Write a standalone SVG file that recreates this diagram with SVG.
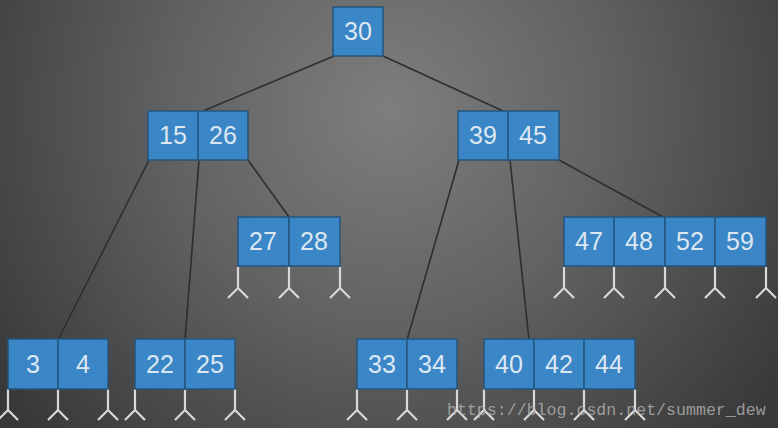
<svg xmlns="http://www.w3.org/2000/svg" width="778" height="428" viewBox="0 0 778 428">
<defs>
<radialGradient id="bg" cx="390" cy="110" r="480" gradientUnits="userSpaceOnUse">
<stop offset="0" stop-color="#7e7f7d"/>
<stop offset="0.45" stop-color="#616261"/>
<stop offset="1" stop-color="#383838"/>
</radialGradient>
<g id="fork"><path d="M0,0 V21 M-10,31 L0,21 L10,31" fill="none"/></g>
</defs>
<style>
.cell{fill:#3a86c6;stroke:#24557f;stroke-width:1.5}
.k{font-family:"Liberation Sans",Arial,sans-serif;font-size:25px;fill:#dde7f1;text-anchor:middle}
.edge{stroke:#2e2e2e;stroke-width:1.6;fill:none}
.forks use{stroke:#d8d8d8;stroke-width:2.2}
.wm{font-family:"Liberation Mono","DejaVu Sans Mono",monospace;font-size:16.6px;fill:#b4b4b4;fill-opacity:0.8}
</style>
<rect width="778" height="428" fill="url(#bg)"/>
<g id="connectors">
<line class="edge" x1="334" y1="56" x2="203" y2="111"/>
<line class="edge" x1="383" y1="56" x2="503" y2="111"/>
<line class="edge" x1="149" y1="160" x2="58" y2="340"/>
<line class="edge" x1="199" y1="160" x2="185" y2="340"/>
<line class="edge" x1="248" y1="160" x2="289" y2="217"/>
<line class="edge" x1="459" y1="160" x2="407" y2="340"/>
<line class="edge" x1="510" y1="160" x2="529" y2="340"/>
<line class="edge" x1="559" y1="160" x2="663" y2="217"/>
</g>
<g class="forks">
<use href="#fork" x="238" y="267"/><use href="#fork" x="289" y="267"/><use href="#fork" x="340" y="267"/>
<use href="#fork" x="564" y="267"/><use href="#fork" x="614" y="267"/><use href="#fork" x="665" y="267"/><use href="#fork" x="715" y="267"/><use href="#fork" x="766" y="267"/>
<use href="#fork" x="8" y="389"/><use href="#fork" x="58" y="389"/><use href="#fork" x="108" y="389"/>
<use href="#fork" x="135" y="389"/><use href="#fork" x="185" y="389"/><use href="#fork" x="235" y="389"/>
<use href="#fork" x="357" y="389"/><use href="#fork" x="407" y="389"/><use href="#fork" x="457" y="389"/>
<use href="#fork" x="484" y="389"/><use href="#fork" x="534" y="389"/><use href="#fork" x="584" y="389"/><use href="#fork" x="635" y="389"/>
</g>
<g id="n30">
<rect class="cell" x="333" y="7" width="50" height="49"/>
<text class="k" x="358" y="40">30</text>
</g>
<g id="n15_26">
<rect class="cell" x="148" y="111" width="50" height="49"/><rect class="cell" x="198" y="111" width="50" height="49"/>
<text class="k" x="173" y="144">15</text><text class="k" x="223" y="144">26</text>
</g>
<g id="n39_45">
<rect class="cell" x="458" y="111" width="50" height="49"/><rect class="cell" x="508" y="111" width="51" height="49"/>
<text class="k" x="483" y="144">39</text><text class="k" x="533" y="144">45</text>
</g>
<g id="n27_28">
<rect class="cell" x="238" y="217" width="51" height="49"/><rect class="cell" x="289" y="217" width="51" height="49"/>
<text class="k" x="263" y="250">27</text><text class="k" x="314" y="250">28</text>
</g>
<g id="n47_59">
<rect class="cell" x="564" y="217" width="50" height="49"/><rect class="cell" x="614" y="217" width="51" height="49"/><rect class="cell" x="665" y="217" width="50" height="49"/><rect class="cell" x="715" y="217" width="51" height="49"/>
<text class="k" x="589" y="250">47</text><text class="k" x="639" y="250">48</text><text class="k" x="690" y="250">52</text><text class="k" x="740" y="250">59</text>
</g>
<g id="n3_4">
<rect class="cell" x="8" y="339" width="50" height="50"/><rect class="cell" x="58" y="339" width="50" height="50"/>
<text class="k" x="33" y="373">3</text><text class="k" x="83" y="373">4</text>
</g>
<g id="n22_25">
<rect class="cell" x="135" y="339" width="50" height="50"/><rect class="cell" x="185" y="339" width="50" height="50"/>
<text class="k" x="160" y="373">22</text><text class="k" x="210" y="373">25</text>
</g>
<g id="n33_34">
<rect class="cell" x="357" y="339" width="50" height="50"/><rect class="cell" x="407" y="339" width="50" height="50"/>
<text class="k" x="382" y="373">33</text><text class="k" x="432" y="373">34</text>
</g>
<g id="n40_44">
<rect class="cell" x="484" y="339" width="50" height="50"/><rect class="cell" x="534" y="339" width="50" height="50"/><rect class="cell" x="584" y="339" width="51" height="50"/>
<text class="k" x="509" y="373">40</text><text class="k" x="559" y="373">42</text><text class="k" x="609" y="373">44</text>
</g>
<text class="wm" x="447" y="415">https://blog.csdn.net/summer_dew</text>
</svg>
